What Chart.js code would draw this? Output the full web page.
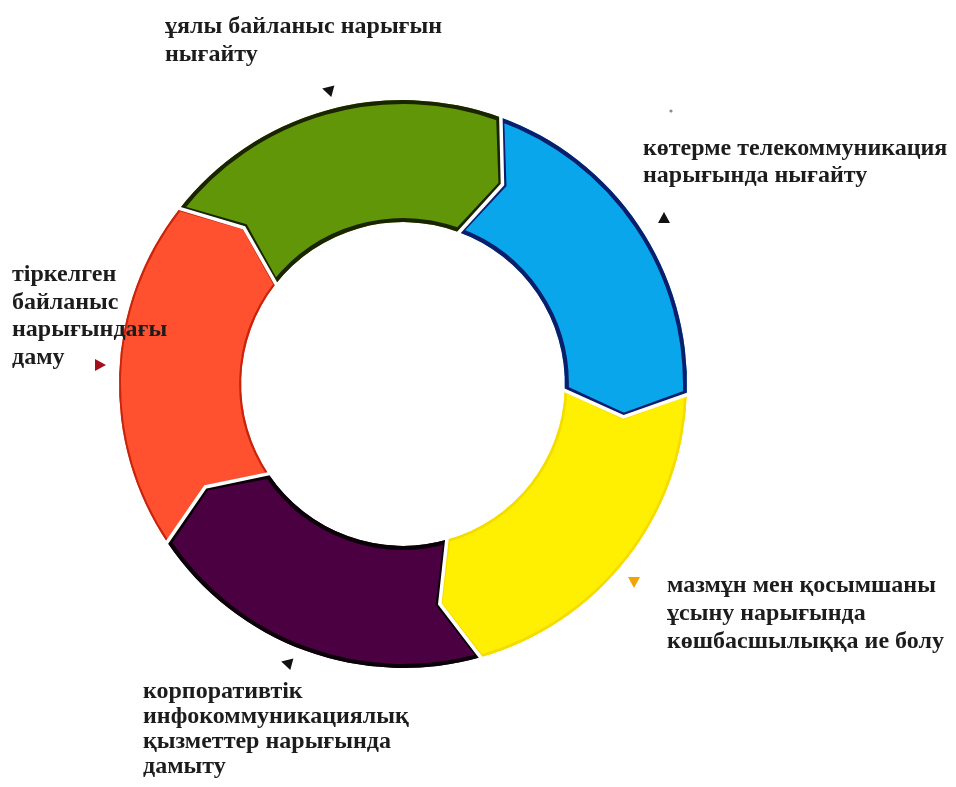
<!DOCTYPE html>
<html>
<head>
<meta charset="utf-8">
<script src="https://cdn.jsdelivr.net/npm/chart.js@4/dist/chart.umd.min.js"></script>
<style>
  html, body { margin: 0; padding: 0; background: #ffffff; }
  #wrap { width: 956px; height: 787px; position: relative; }
</style>
</head>
<body>
<div id="wrap"><canvas id="cycle" width="956" height="787"></canvas></div>
<script>
// Development directions, clockwise from the top-left segment
const stages = [
  ['ұялы байланыс нарығын', 'нығайту'],
  ['көтерме телекоммуникация', 'нарығында нығайту'],
  ['мазмұн мен қосымшаны', 'ұсыну нарығында', 'көшбасшылыққа ие болу'],
  ['корпоративтік', 'инфокоммуникациялық', 'қызметтер нарығында', 'дамыту'],
  ['тіркелген', 'байланыс', 'нарығындағы', 'даму']
];
// Each direction takes an equal share of the cycle
const shares = [20, 20, 20, 20, 20];
const fills = ['#619609', '#0aa6ec', '#ffef00', '#4b0042', '#ff5130'];
const edges = ['#1a2400', '#0c1d6c', '#f5dc00', '#0a0008', '#c8240c'];
const edgeWidths = [8, 8, 5, 8, 4];

// Caption placement: left x and first baseline, line step
const captionLayout = [
  { x: 165, y: 33, step: 28 },
  { x: 643, y: 155, step: 27 },
  { x: 667, y: 592, step: 28 },
  { x: 143, y: 698, step: 25 },
  { x: 12, y: 281, step: 27.7 }
];
// Small pointer triangles next to each caption
const pointerLayout = [
  { x: 328, y: 90, dir: 195, color: '#111111' },
  { x: 664, y: 218, dir: -90, color: '#111111' },
  { x: 634, y: 582, dir: 90, color: '#f0a600' },
  { x: 287, y: 663, dir: 195, color: '#111111' },
  { x: 100, y: 365, dir: 0, color: '#a3101c' }
];

const TIP = 6.5 * Math.PI / 180;

function pt(s, r, a) {
  return [s.x + r * Math.cos(a), s.y + r * Math.sin(a)];
}

// Draws every arc as a chevron pointing clockwise
const chevronArcs = {
  id: 'chevronArcs',
  beforeDatasetDraw(chart, args) {
    const ctx = chart.ctx;
    const shapes = args.meta.data.map(arc => {
      const p = arc.getProps(['x', 'y', 'startAngle', 'endAngle', 'innerRadius', 'outerRadius'], true);
      return { x: p.x, y: p.y, a0: p.startAngle, a1: p.endAngle, ri: p.innerRadius, ro: p.outerRadius };
    });
    shapes.forEach((s, i) => {
      const rm = (s.ri + s.ro) / 2;
      ctx.save();
      ctx.beginPath();
      ctx.arc(s.x, s.y, s.ro, s.a0, s.a1);
      ctx.lineTo(...pt(s, rm, s.a1 + TIP));
      ctx.lineTo(...pt(s, s.ri, s.a1));
      ctx.arc(s.x, s.y, s.ri, s.a1, s.a0, true);
      ctx.lineTo(...pt(s, rm, s.a0 + TIP));
      ctx.closePath();
      ctx.fillStyle = fills[i];
      ctx.fill();
      ctx.clip();
      ctx.lineWidth = edgeWidths[i];
      ctx.lineJoin = 'miter';
      ctx.strokeStyle = edges[i];
      ctx.stroke();
      ctx.restore();
    });
    // white seams between neighbouring chevrons
    shapes.forEach(s => {
      const rm = (s.ri + s.ro) / 2;
      ctx.save();
      ctx.beginPath();
      ctx.moveTo(...pt(s, s.ro + 2, s.a0));
      ctx.lineTo(...pt(s, rm, s.a0 + TIP));
      ctx.lineTo(...pt(s, s.ri - 2, s.a0));
      ctx.strokeStyle = '#ffffff';
      ctx.lineWidth = 3.5;
      ctx.lineJoin = 'miter';
      ctx.stroke();
      ctx.restore();
    });
    return false;
  }
};

// Captions and pointer marks
const captions = {
  id: 'captions',
  afterDraw(chart) {
    const ctx = chart.ctx;
    ctx.save();
    ctx.font = 'bold 24px "Liberation Serif", "Times New Roman", serif';
    ctx.fillStyle = '#1c1c1c';
    ctx.textAlign = 'left';
    ctx.textBaseline = 'alphabetic';
    stages.forEach((lines, i) => {
      const L = captionLayout[i];
      lines.forEach((t, k) => ctx.fillText(t, L.x, L.y + k * L.step));
    });
    pointerLayout.forEach(p => {
      const a = p.dir * Math.PI / 180;
      ctx.save();
      ctx.translate(p.x, p.y);
      ctx.rotate(a);
      ctx.beginPath();
      ctx.moveTo(6, 0);
      ctx.lineTo(-5, -6);
      ctx.lineTo(-5, 6);
      ctx.closePath();
      ctx.fillStyle = p.color;
      ctx.fill();
      ctx.restore();
    });
    ctx.beginPath();
    ctx.arc(671, 111, 1.6, 0, Math.PI * 2);
    ctx.fillStyle = '#8a8a8a';
    ctx.fill();
    ctx.restore();
  }
};

new Chart(document.getElementById('cycle'), {
  type: 'doughnut',
  data: {
    labels: stages.map(l => l.join(' ')),
    datasets: [{
      data: shares,
      backgroundColor: fills,
      borderWidth: 0
    }]
  },
  options: {
    responsive: false,
    animation: false,
    rotation: 308,
    cutout: '57%',
    layout: { padding: { left: 119, right: 269, top: 100, bottom: 119 } },
    plugins: {
      legend: { display: false },
      tooltip: { enabled: false }
    }
  },
  plugins: [chevronArcs, captions]
});
</script>
</body>
</html>
